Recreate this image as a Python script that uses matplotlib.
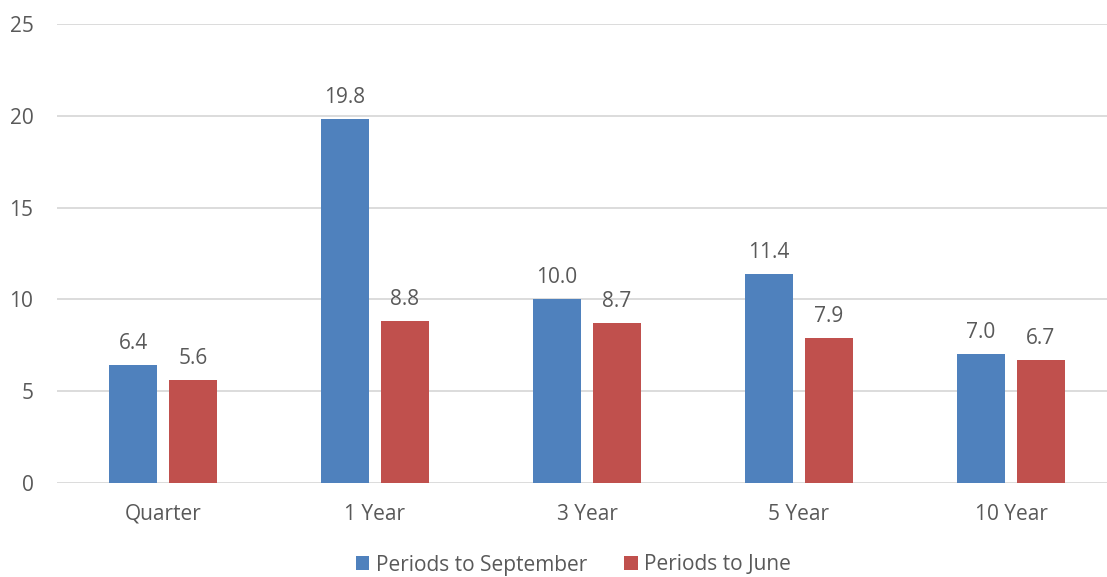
import numpy as np
import matplotlib.pyplot as plt

categories = ['Quarter', '1 Year', '3 Year', '5 Year', '10 Year']
september = [6.4, 19.8, 10.0, 11.4, 7.0]
june = [5.6, 8.8, 8.7, 7.9, 6.7]

blue = '#4F81BD'
red = '#C0504D'
text_col = '#595959'

plt.rcParams['font.family'] = ['Open Sans', 'DejaVu Sans']

fig = plt.figure(figsize=(11.07, 5.77), dpi=100)
ax = fig.add_axes([57/1107, (577-483)/577, 1060/1107, (483-24)/577])

x = np.arange(len(categories))
w = 0.226
off = 0.1415
b1 = ax.bar(x - off, september, w, color=blue, label='Periods to September', zorder=3)
b2 = ax.bar(x + off, june, w, color=red, label='Periods to June', zorder=3)

# value labels above bars
for bars in (b1, b2):
    for b in bars:
        ax.annotate(f'{b.get_height():.1f}', (b.get_x() + b.get_width()/2, b.get_height()),
                    xytext=(0, 8), textcoords='offset points', ha='center', va='bottom',
                    fontsize=15, color=text_col)

ax.set_xlim(-0.5, 4.5)
ax.set_ylim(0, 25)
ax.set_yticks([0, 5, 10, 15, 20, 25])
ax.set_xticks(x)
ax.set_xticklabels(categories)
ax.yaxis.grid(True, color='#D9D9D9', linewidth=1.3, zorder=0)
for s in ['top', 'right', 'left', 'bottom']:
    ax.spines[s].set_visible(False)
ax.tick_params(axis='both', length=0, labelsize=15, labelcolor=text_col)
ax.tick_params(axis='y', pad=17)
ax.tick_params(axis='x', pad=15)

fig.legend(loc='center', bbox_to_anchor=(0.5 + 20/1107, 1 - 565/577), ncol=2, frameon=False,
           fontsize=15, labelcolor=text_col, handlelength=0.65, handleheight=0.65,
           handletextpad=0.3, columnspacing=1.8)

fig.savefig('out.png', dpi=100)
